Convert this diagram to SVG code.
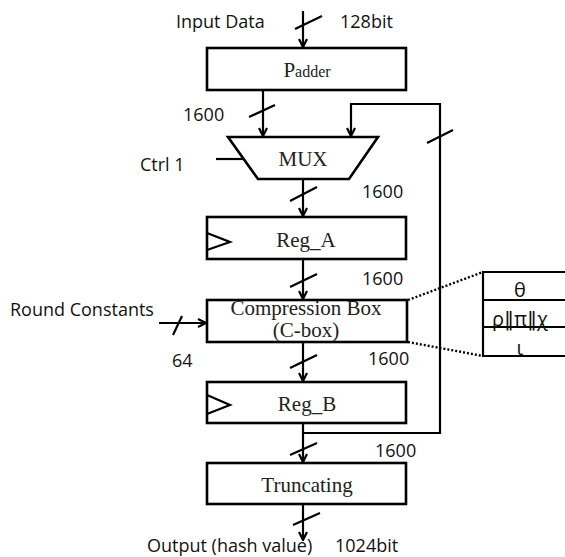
<svg xmlns="http://www.w3.org/2000/svg" width="565" height="557" viewBox="0 0 565 557">
  <style>
    .box { fill: #fff; stroke: #000; stroke-width: 2.6; }
    .wire { fill: none; stroke: #000; stroke-width: 2.2; }
    .slash { fill: none; stroke: #000; stroke-width: 2.2; }
    .dot { fill: none; stroke: #000; stroke-width: 2.4; stroke-dasharray: 2 2; }
    .lbl { font-family: "Open Sans", "Liberation Sans", sans-serif; font-size: 18px; fill: #111; }
    .blk { font-family: "Liberation Serif", serif; font-size: 21px; fill: #222; text-anchor: middle; }
    .tbl { font-family: "Open Sans", "DejaVu Sans", sans-serif; font-size: 20px; fill: #111; text-anchor: middle; }
  </style>
  <defs>
    <marker id="arr" viewBox="0 0 10 10" refX="9" refY="5" markerWidth="10" markerHeight="10" markerUnits="userSpaceOnUse" orient="auto">
      <path d="M1,1 L9,5 L1,9" fill="none" stroke="#000" stroke-width="2.2"/>
    </marker>
  </defs>

  <rect width="565" height="557" fill="#fff"/>

  <!-- connectors -->
  <g id="connectors">
    <line class="wire" x1="303" y1="11" x2="303" y2="47" marker-end="url(#arr)"/>
    <line class="slash" x1="295" y1="29" x2="322" y2="16"/>

    <line class="wire" x1="263" y1="90" x2="263" y2="136" marker-end="url(#arr)"/>
    <line class="slash" x1="249" y1="117" x2="275" y2="105"/>

    <line class="wire" x1="303" y1="179" x2="303" y2="216" marker-end="url(#arr)"/>
    <line class="slash" x1="290" y1="201" x2="317" y2="187"/>

    <line class="wire" x1="303" y1="259" x2="303" y2="299" marker-end="url(#arr)"/>
    <line class="slash" x1="290" y1="287" x2="317" y2="274"/>

    <line class="wire" x1="303" y1="342" x2="303" y2="381" marker-end="url(#arr)"/>
    <line class="slash" x1="290" y1="368" x2="317" y2="355"/>

    <line class="wire" x1="303" y1="423" x2="303" y2="462" marker-end="url(#arr)"/>
    <line class="slash" x1="290" y1="455" x2="317" y2="443"/>

    <line class="wire" x1="303" y1="504" x2="303" y2="540" marker-end="url(#arr)"/>
    <line class="slash" x1="293" y1="525" x2="320" y2="513"/>

    <!-- feedback from Reg_B output back to MUX -->
    <polyline class="wire" points="303,433 440,433 440,104 351,104 351,136" marker-end="url(#arr)"/>
    <line class="slash" x1="427" y1="143" x2="453" y2="130"/>

    <!-- round constants input -->
    <line class="wire" x1="159" y1="323" x2="206" y2="323" marker-end="url(#arr)"/>
    <line class="slash" x1="173" y1="335" x2="182" y2="316"/>

    <!-- ctrl input -->
    <line class="wire" x1="216" y1="159" x2="244" y2="159"/>

    <!-- zoom lines to the step table -->
    <line class="dot" x1="408" y1="300" x2="483" y2="272"/>
    <line class="dot" x1="408" y1="342" x2="483" y2="356"/>
  </g>

  <g id="padder">
    <rect class="box" x="207" y="48" width="199" height="42"/>
    <text class="blk" x="307" y="77"><tspan font-size="21">P</tspan><tspan font-size="16">adder</tspan></text>
  </g>

  <g id="mux">
    <polygon class="box" points="228,137 378,137 349,179 258,179"/>
    <text class="blk" x="303" y="166">MUX</text>
  </g>

  <g id="reg-a">
    <rect class="box" x="207" y="217" width="199" height="42"/>
    <polyline class="wire" points="207,233 230,242 207,250"/>
    <text class="blk" x="306" y="247">Reg_A</text>
  </g>

  <g id="c-box">
    <rect class="box" x="207" y="300" width="200" height="42"/>
    <text class="blk" x="306" y="315">Compression Box</text>
    <text class="blk" x="306" y="337">(C-box)</text>
  </g>

  <g id="reg-b">
    <rect class="box" x="207" y="382" width="199" height="41"/>
    <polyline class="wire" points="207,395 230,405 207,414"/>
    <text class="blk" x="307" y="411">Reg_B</text>
  </g>

  <g id="truncating">
    <rect class="box" x="207" y="463" width="199" height="41"/>
    <text class="blk" x="307" y="492">Truncating</text>
  </g>

  <g id="step-table">
    <line class="wire" x1="483" y1="271" x2="483" y2="357"/>
    <line class="wire" x1="482" y1="272" x2="565" y2="272"/>
    <line class="wire" x1="482" y1="300" x2="565" y2="300"/>
    <line class="wire" x1="482" y1="327" x2="565" y2="327"/>
    <line class="wire" x1="482" y1="356" x2="565" y2="356"/>
    <text class="tbl" x="520" y="297">θ</text>
    <text class="tbl" x="520" y="326">ρ‖π‖χ</text>
    <text class="tbl" x="520" y="355">ι</text>
  </g>

  <g id="labels">
    <text class="lbl" x="176" y="28">Input Data</text>
    <text class="lbl" x="340" y="28">128bit</text>
    <text class="lbl" x="183" y="121">1600</text>
    <text class="lbl" x="140" y="171">Ctrl 1</text>
    <text class="lbl" x="362" y="198">1600</text>
    <text class="lbl" x="362" y="285">1600</text>
    <text class="lbl" x="10" y="316">Round Constants</text>
    <text class="lbl" x="172" y="367">64</text>
    <text class="lbl" x="368" y="365">1600</text>
    <text class="lbl" x="375" y="457">1600</text>
    <text class="lbl" x="147" y="552">Output (hash value)</text>
    <text class="lbl" x="335" y="552">1024bit</text>
  </g>
</svg>
